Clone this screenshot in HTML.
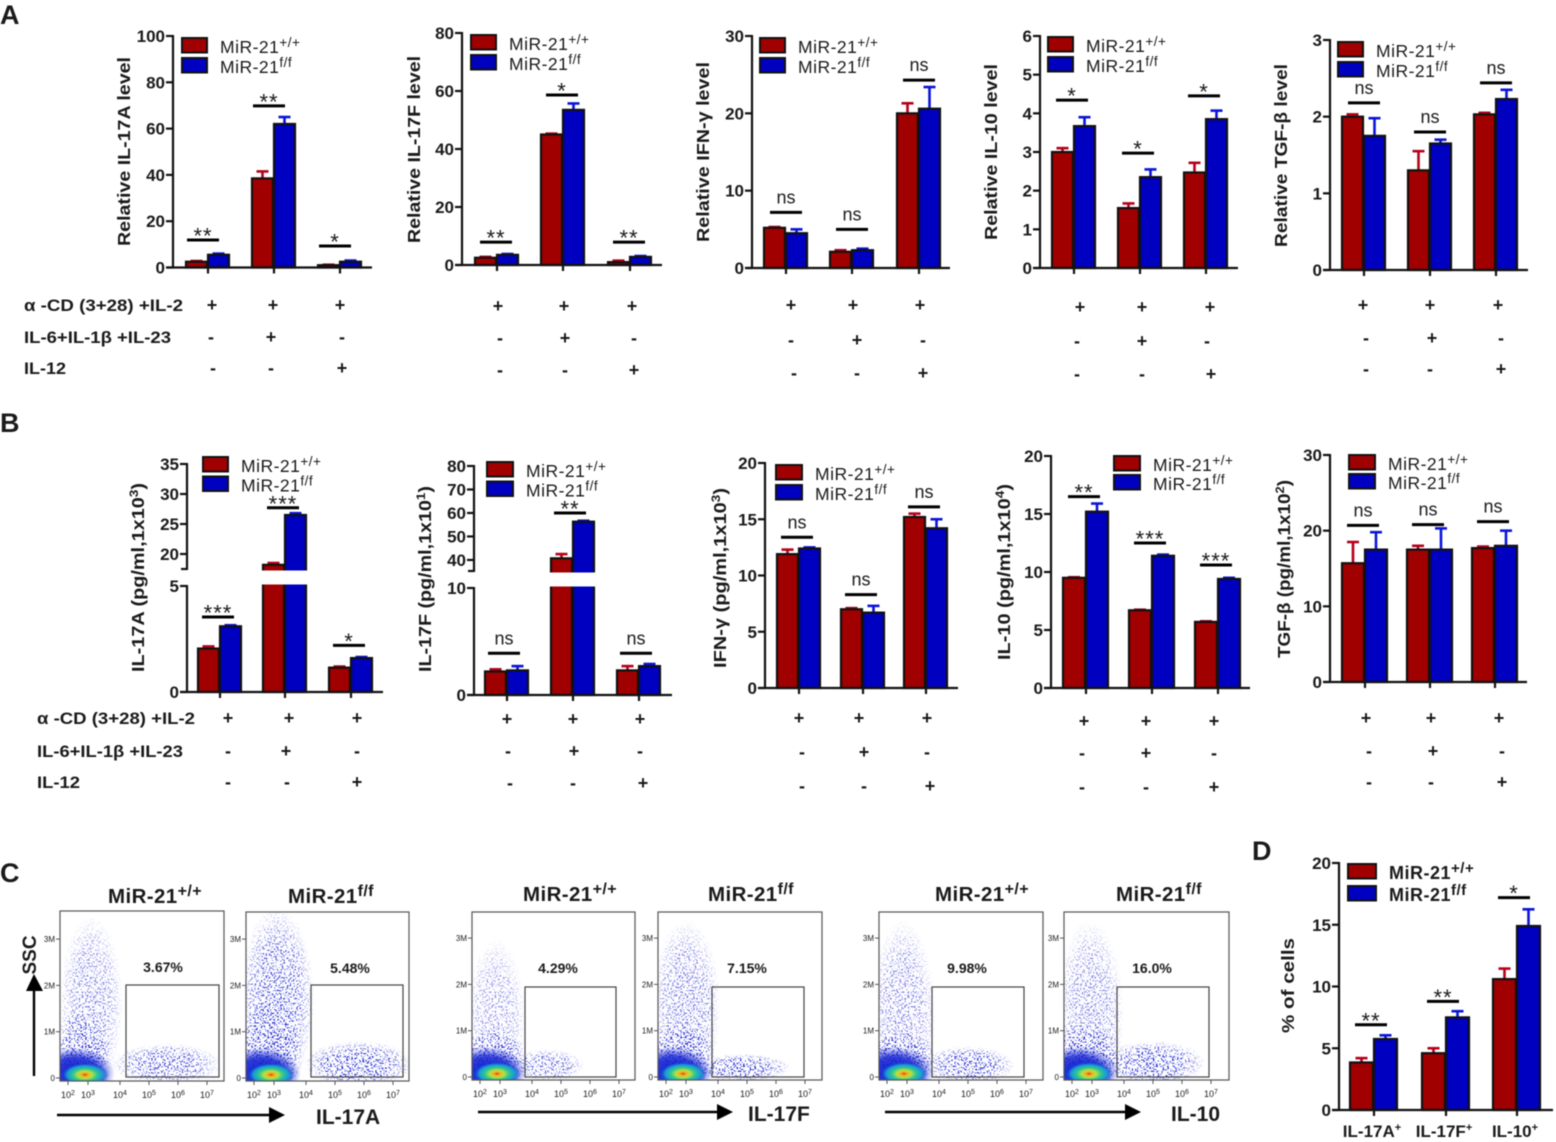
<!DOCTYPE html>
<html lang="en">
<head>
<meta charset="utf-8">
<title>MiR-21 cytokine figure</title>
<style>
html,body{margin:0;padding:0;background:#fff;width:1556px;height:1142px;overflow:hidden}
svg{display:block;filter:blur(.5px)}
text{font-family:"Liberation Sans",sans-serif;fill:#1a1a1a}
</style>
</head>
<body>
<svg id="fig" xmlns="http://www.w3.org/2000/svg" width="1556" height="1142" viewBox="0 0 1556 1142">
<defs>
<filter id="stipple" x="0" y="0" width="100%" height="100%" color-interpolation-filters="sRGB">
<feTurbulence type="fractalNoise" baseFrequency="0.62" numOctaves="1" seed="7"/>
<feColorMatrix type="matrix" values="0 0 0 0 .05  0 0 0 0 .08  0 0 0 0 .80  12 0 0 0 -6.5"/>
</filter>
<radialGradient id="soft"><stop offset="0" stop-color="#fff" stop-opacity="1"/><stop offset=".6" stop-color="#fff" stop-opacity=".8"/><stop offset="1" stop-color="#fff" stop-opacity="0"/></radialGradient>
<radialGradient id="coreBlue"><stop offset="0" stop-color="#0a18d0" stop-opacity="1"/><stop offset=".6" stop-color="#1422d0" stop-opacity=".85"/><stop offset="1" stop-color="#2030d0" stop-opacity="0"/></radialGradient>
<radialGradient id="coreHeat"><stop offset="0" stop-color="#e8341e"/><stop offset=".14" stop-color="#f0b020"/><stop offset=".3" stop-color="#b8e040"/><stop offset=".5" stop-color="#30c890"/><stop offset=".75" stop-color="#1898d8"/><stop offset="1" stop-color="#1430d0" stop-opacity="0"/></radialGradient>
</defs>
<g id="root"></g>
</svg>
<script>
// ---- Treatment matrix (1 = "+", 0 = "-") ----
const treatmentNames = ["α -CD (3+28) +IL-2", "IL-6+IL-1β +IL-23", "IL-12"];
const treatAnti = [1, 1, 1];
const treatCyt = [0, 1, 0];
const treatIl12 = [0, 0, 1];

// ---- Panel A ----
const a1Ticks = [0, 20, 40, 60, 80, 100];
const a1Wt = [2.5, 38.5, 1];
const a1Ko = [5.5, 62, 2.5];
const a1WtErr = [2.8, 41.5, 1.2];
const a1KoErr = [6, 65, 3];
const a1Sig = ["**", "**", "*"];
const a1SigLevel = [11.9, 69.8, 9.3];

const a2Ticks = [0, 20, 40, 60, 80];
const a2Wt = [2.5, 45, 1];
const a2Ko = [3.5, 53.5, 2.8];
const a2WtErr = [2.8, 45.3, 1.5];
const a2KoErr = [3.8, 55.7, 3.1];
const a2Sig = ["**", "*", "**"];
const a2SigLevel = [7.9, 58.6, 7.9];

const a3Ticks = [0, 10, 20, 30];
const a3Wt = [5.2, 2.1, 20];
const a3Ko = [4.5, 2.3, 20.6];
const a3WtErr = [5.3, 2.3, 21.3];
const a3KoErr = [5.0, 2.5, 23.4];
const a3Sig = ["ns", "ns", "ns"];
const a3SigLevel = [7.2, 5.0, 24.3];

const a4Ticks = [0, 1, 2, 3, 4, 5, 6];
const a4Wt = [3.0, 1.55, 2.47];
const a4Ko = [3.67, 2.35, 3.85];
const a4WtErr = [3.1, 1.67, 2.72];
const a4KoErr = [3.9, 2.55, 4.07];
const a4Sig = ["*", "*", "*"];
const a4SigLevel = [4.34, 2.97, 4.45];

const a5Ticks = [0, 1, 2, 3];
const a5Wt = [2.0, 1.3, 2.03];
const a5Ko = [1.75, 1.65, 2.23];
const a5WtErr = [2.03, 1.55, 2.05];
const a5KoErr = [1.98, 1.7, 2.35];
const a5Sig = ["ns", "ns", "ns"];
const a5SigLevel = [2.18, 1.8, 2.44];

// ---- Panel B ----
const b1Ticks = [0, 5, 20, 25, 30, 35];
const b1Wt = [2.05, 18.2, 1.15];
const b1Ko = [3.1, 26.5, 1.6];
const b1WtErr = [2.15, 18.5, 1.2];
const b1KoErr = [3.15, 26.8, 1.65];
const b1Sig = ["***", "***", "*"];
const b1SigLevel = [3.54, 27.7, 2.2];

const b2Ticks = [0, 10, 40, 50, 60, 70, 80];
const b2Wt = [2.2, 40.7, 2.3];
const b2Ko = [2.3, 56.3, 2.7];
const b2WtErr = [2.4, 42.5, 2.7];
const b2KoErr = [2.7, 56.7, 2.9];
const b2Sig = ["ns", "**", "ns"];
const b2SigLevel = [3.9, 60, 3.9];

const b3Ticks = [0, 5, 10, 15, 20];
const b3Wt = [11.9, 7.0, 15.2];
const b3Ko = [12.4, 6.7, 14.2];
const b3WtErr = [12.3, 7.1, 15.5];
const b3KoErr = [12.5, 7.3, 15];
const b3Sig = ["ns", "ns", "ns"];
const b3SigLevel = [13.4, 8.3, 16.1];

const b4Ticks = [0, 5, 10, 15, 20];
const b4Wt = [9.5, 6.7, 5.7];
const b4Ko = [15.2, 11.4, 9.4];
const b4WtErr = [9.55, 6.75, 5.75];
const b4KoErr = [15.9, 11.5, 9.5];
const b4Sig = ["**", "***", "***"];
const b4SigLevel = [16.5, 12.5, 10.6];

const b5Ticks = [0, 10, 20, 30];
const b5Wt = [15.7, 17.5, 17.7];
const b5Ko = [17.5, 17.5, 18];
const b5WtErr = [18.5, 18, 17.9];
const b5KoErr = [19.8, 20.3, 20];
const b5Sig = ["ns", "ns", "ns"];
const b5SigLevel = [20.7, 20.8, 21.2];

// ---- Panel D ----
const dCategories = ["IL-17A", "IL-17F", "IL-10"];
const dTicks = [0, 5, 10, 15, 20];
const dWt = [3.85, 4.6, 10.6];
const dKo = [5.75, 7.5, 14.9];
const dWtErr = [4.2, 5.0, 11.45];
const dKoErr = [6.05, 8.0, 16.25];
const dSig = ["**", "**", "*"];
const dSigLevel = [6.9, 8.8, 17.2];

// ---- Panel C: population descriptors [log10 signal, SSC (M), spread log, spread SSC, density] ----
const flowPercents = ["3.67%", "5.48%", "4.29%", "7.15%", "9.98%", "16.0%"];
const flowXTicks = [2, 3, 4, 5, 6, 7];
const flowYTicks = [0, 1, 2, 3];
const flowP1 = [[3.1, 1.6, 1.0, 1.9, .6], [2.7, .5, 1.0, 1.0, 1], [5.6, .3, 1.9, .45, .85]];
const flowP2 = [[3.1, 1.7, 1.2, 2.0, .85], [2.8, .6, 1.1, 1.2, 1], [5.8, .3, 1.9, .5, 1]];
const flowP3 = [[2.8, 1.2, 1.0, 1.8, .5], [2.7, .4, 1.1, .7, 1], [4.5, .25, 1.3, .35, .75]];
const flowP4 = [[3, 1.5, 1.1, 1.9, .65], [2.8, .45, 1.1, .8, 1], [4.8, .2, 1.7, .3, 1]];
const flowP5 = [[2.8, 1.3, 1.1, 2.1, .6], [2.7, .35, 1.2, .7, 1], [5, .25, 1.6, .42, .95]];
const flowP6 = [[2.9, 1.3, 1.1, 2.1, .6], [2.7, .4, 1.2, .8, 1], [5, .3, 1.8, .48, 1]];

// ---- Helpers ----
const NS = "http://www.w3.org/2000/svg";
const root = document.getElementById("root");
const defs = document.querySelector("defs");
function mk(tag, attrs, parent) {
  const el = document.createElementNS(NS, tag);
  for (const k in attrs) el.setAttribute(k, attrs[k]);
  (parent || root).appendChild(el);
  return el;
}
function tspan(parent, str, attrs) {
  const t = document.createElementNS(NS, "tspan");
  for (const k in (attrs || {})) t.setAttribute(k, attrs[k]);
  t.textContent = str;
  parent.appendChild(t);
  return t;
}
function genotype(el, base, sup, supSize, rise) {
  tspan(el, base);
  tspan(el, sup, { "font-size": supSize, dy: -rise });
}

const RED = "#a00000", BLUE = "#0000c0", ERR_R = "#b5001a", ERR_B = "#0a14d8";

function makeScale(p) {
  if (p.brk) {
    const b = p.brk;
    return v => v <= b.low
      ? p.y0 - v / b.low * (p.y0 - b.yLow)
      : b.yUp - (v - b.up) / (p.max - b.up) * (b.yUp - p.yTop);
  }
  return v => p.y0 - v / p.max * (p.y0 - p.yTop);
}

function drawPanel(p) {
  const g = mk("g", {});
  
  
  const y = makeScale(p);
  const barX = (grp, s) => p.gx0[grp] + s * p.pitch;
  const centre = grp => p.gx0[grp] + p.pitch;

  // bars + error bars
  [[p.wt, p.wtE, RED, ERR_R, "wt"], [p.ko, p.koE, BLUE, ERR_B, "ko"]].forEach((s, si) => {
    s[0].forEach((v, i) => {
      const x = barX(i, si);
      const bw = p.pitch - 1;
      const ex = x + bw / 2;
      const stem = mk("line", { x1: ex, x2: ex, y1: y(v), y2: y(s[1][i]), stroke: s[3], "stroke-width": 2.6 }, g);
      
      
      const cap = mk("line", { x1: ex - 6, x2: ex + 6, y1: y(s[1][i]), y2: y(s[1][i]), stroke: s[3], "stroke-width": 2.6 }, g);
      
      
      const bar = mk("rect", { x: x, y: y(v), width: bw, height: p.y0 - y(v), fill: s[2], stroke: "#111", "stroke-width": 2.2 }, g);
      
      
    });
  });

  // break gap
  if (p.brk) {
    const gap = mk("rect", { x: p.ax - 12, y: p.brk.yUp + 1.5, width: p.xEnd - p.ax + 20, height: p.brk.yLow - p.brk.yUp - 3, fill: "#fff" }, g);
    
    
  }

  // y axis
  const segs = p.brk ? [[p.y0, p.brk.yLow], [p.brk.yUp, p.yTop]] : [[p.y0, p.yTop]];
  segs.forEach(sg => {
    const l = mk("line", { x1: p.ax, x2: p.ax, y1: sg[0] + 1, y2: sg[1] - 1, stroke: "#111", "stroke-width": 2.2 }, g);
    
    
  });
  if (p.brk) {
    const bt = mk("line", { x1: p.ax - 6, x2: p.ax, y1: p.brk.yUp, y2: p.brk.yUp, stroke: "#111", "stroke-width": 2.2 }, g);
    
    
  }
  p.ticks.forEach(t => {
    const ty = y(t);
    const tick = mk("line", { x1: p.ax - 7, x2: p.ax, y1: ty, y2: ty, stroke: "#111", "stroke-width": 2.2 }, g);
    
    
    const lab = mk("text", { x: p.ax - 8, y: ty + 6, "text-anchor": "end", "font-size": 17, "font-weight": "bold", fill: "#222" }, g);
    lab.textContent = t;
    
    
  });

  // x axis
  const xl = mk("line", { x1: p.ax - 7, x2: p.xEnd, y1: p.y0, y2: p.y0, stroke: "#111", "stroke-width": 2.2 }, g);
  
  
  p.wt.forEach((_, i) => {
    const c = centre(i);
    const xt = mk("line", { x1: c, x2: c, y1: p.y0, y2: p.y0 + 6, stroke: "#111", "stroke-width": 2.2 }, g);
    
    
  });

  // significance
  p.sig.forEach((s, i) => {
    const c = centre(i) + p.sigOff;
    const sy = y(p.sigLv[i]);
    const ln = mk("line", { x1: c - 16, x2: c + 16, y1: sy, y2: sy, stroke: "#000", "stroke-width": 3 }, g);
    
    
    const isNs = s === "ns";
    const tx = mk("text", { x: c, y: isNs ? sy - 9 : sy + 3.5, "text-anchor": "middle", "font-size": isNs ? 18 : 22, fill: "#333", "letter-spacing": isNs ? 0 : 1 }, g);
    tx.textContent = s;
    
    
  });

  // y title
  const cy = (p.title.y1 + p.title.y2) / 2;
  const title = mk("text", { transform: "translate(" + p.title.x + "," + cy + ") rotate(-90)", "text-anchor": "middle", "font-size": 17.5, "font-weight": "bold", fill: "#222", textLength: p.title.y2 - p.title.y1, lengthAdjust: "spacingAndGlyphs" }, g);
  tspan(title, p.title.a);
  if (p.title.s) {
    tspan(title, p.title.s, { "font-size": 12, dy: -6 });
    tspan(title, ")", { dy: 6 });
  }
  
  

  // legend
  const L = p.leg;
  [["+/+", RED, "wt"], ["f/f", BLUE, "ko"]].forEach((e, i) => {
    const ly = L.y + i * L.gap;
    const sw = mk("rect", { x: L.x, y: ly, width: L.w, height: 14.5, fill: e[1], stroke: "#111", "stroke-width": 2 }, g);
    
    
    const tx = mk("text", { x: L.x + L.w + 13, y: ly + 15, "font-size": L.fs, "letter-spacing": ".5", fill: "#333", "font-weight": L.bold ? "bold" : "normal" }, g);
    genotype(tx, "MiR-21", e[0], L.sup, 6);
    
    
  });

  // treatment marks
  if (p.marks) {
    [treatAnti, treatCyt, treatIl12].forEach((row, r) => {
      row.forEach((f, i) => {
        const m = p.marks[r];
        const tx = mk("text", { x: m.x[i], y: m.y + 6, "text-anchor": "middle", "font-size": 18, "font-weight": "bold", fill: "#222" }, g);
        tx.textContent = f ? "+" : "-";
        
        
      });
    });
  }
}

const panels = [
 {id:"a-il17a",ax:173,xEnd:372,y0:267.5,yTop:36,max:100,ticks:a1Ticks,wt:a1Wt,ko:a1Ko,wtE:a1WtErr,koE:a1KoErr,sig:a1Sig,sigLv:a1SigLevel,gx0:[186,252,318],pitch:22,sigOff:-5,
  title:{x:130,y1:57,y2:246,a:"Relative IL-17A level"},leg:{x:182,y:38,gap:20,w:25,fs:17.5,sup:13.5},
  marks:[{y:305,x:[212,273,340]},{y:337,x:[211,271,342]},{y:368,x:[213,271,342]}]},
 {id:"a-il17f",ax:462,xEnd:662,y0:265,yTop:33,max:80,ticks:a2Ticks,wt:a2Wt,ko:a2Ko,wtE:a2WtErr,koE:a2KoErr,sig:a2Sig,sigLv:a2SigLevel,gx0:[475,541,608],pitch:22,sigOff:-1,
  title:{x:420,y1:56,y2:243,a:"Relative IL-17F level"},leg:{x:471,y:35,gap:20,w:25,fs:17.5,sup:13.5},
  marks:[{y:306,x:[498,564,632]},{y:338,x:[500,565,634]},{y:370,x:[500,565,634]}]},
 {id:"a-ifng",ax:752,xEnd:950,y0:268,yTop:36,max:30,ticks:a3Ticks,wt:a3Wt,ko:a3Ko,wtE:a3WtErr,koE:a3KoErr,sig:a3Sig,sigLv:a3SigLevel,gx0:[764,830,897],pitch:22,sigOff:0,
  title:{x:709,y1:62,y2:242,a:"Relative IFN-γ level"},leg:{x:760,y:38,gap:20,w:25,fs:17.5,sup:13.5},
  marks:[{y:305,x:[791,853,920]},{y:340,x:[791,857,923]},{y:373,x:[794,857,923]}]},
 {id:"a-il10",ax:1040,xEnd:1238,y0:268,yTop:36,max:6,ticks:a4Ticks,wt:a4Wt,ko:a4Ko,wtE:a4WtErr,koE:a4KoErr,sig:a4Sig,sigLv:a4SigLevel,gx0:[1052,1118,1184],pitch:22,sigOff:-2,
  title:{x:997,y1:64,y2:240,a:"Relative IL-10 level"},leg:{x:1048,y:37,gap:20,w:25,fs:17.5,sup:13.5},
  marks:[{y:307,x:[1080,1142,1210]},{y:341,x:[1077,1142,1207]},{y:374,x:[1077,1142,1211]}]},
 {id:"a-tgfb",ax:1330,xEnd:1528,y0:270,yTop:40,max:3,ticks:a5Ticks,wt:a5Wt,ko:a5Ko,wtE:a5WtErr,koE:a5KoErr,sig:a5Sig,sigLv:a5SigLevel,gx0:[1342,1408,1474],pitch:22,sigOff:0,
  title:{x:1287,y1:64,y2:247,a:"Relative TGF-β level"},leg:{x:1338,y:42,gap:20,w:25,fs:17.5,sup:13.5},
  marks:[{y:305,x:[1363,1430,1498]},{y:338,x:[1366,1432,1501]},{y:369,x:[1366,1430,1501]}]},
 {id:"b-il17a",ax:187,xEnd:383,y0:692,yTop:464,max:35,brk:{low:5,yLow:586,up:17.5,yUp:569},ticks:b1Ticks,wt:b1Wt,ko:b1Ko,wtE:b1WtErr,koE:b1KoErr,sig:b1Sig,sigLv:b1SigLevel,gx0:[198,263,329],pitch:22,sigOff:-2,
  title:{x:144,y1:483,y2:672,a:"IL-17A (pg/ml,1x10",s:"3"},leg:{x:203,y:457,gap:19.5,w:25,fs:17.5,sup:13.5},
  marks:[{y:718,x:[228,289,357]},{y:751,x:[228,286,357]},{y:782,x:[228,287,357]}]},
 {id:"b-il17f",ax:474,xEnd:672,y0:695,yTop:466,max:80,brk:{low:10,yLow:588,up:35.3,yUp:571},ticks:b2Ticks,wt:b2Wt,ko:b2Ko,wtE:b2WtErr,koE:b2KoErr,sig:b2Sig,sigLv:b2SigLevel,gx0:[485,551,617],pitch:22,sigOff:-3,
  title:{x:431,y1:486,y2:672,a:"IL-17F (pg/ml,1x10",s:"1"},leg:{x:487,y:462,gap:19.5,w:26,fs:17.5,sup:13.5},
  marks:[{y:719,x:[507,573,640]},{y:751,x:[508,574,640]},{y:783,x:[510,573,643]}]},
 {id:"b-ifng",ax:765,xEnd:958,y0:688,yTop:463,max:20,ticks:b3Ticks,wt:b3Wt,ko:b3Ko,wtE:b3WtErr,koE:b3KoErr,sig:b3Sig,sigLv:b3SigLevel,gx0:[777,841,904],pitch:22,sigOff:-2,
  title:{x:726,y1:488,y2:668,a:"IFN-γ  (pg/ml,1x10",s:"3"},leg:{x:776,y:465,gap:20,w:26,fs:17.5,sup:13.5},
  marks:[{y:718,x:[799,859,927]},{y:752,x:[802,864,927]},{y:786,x:[802,864,930]}]},
 {id:"b-il10",ax:1051,xEnd:1250,y0:688,yTop:456,max:20,ticks:b4Ticks,wt:b4Wt,ko:b4Ko,wtE:b4WtErr,koE:b4KoErr,sig:b4Sig,sigLv:b4SigLevel,gx0:[1063,1129,1195],pitch:23,sigOff:-2,
  title:{x:1010,y1:484,y2:660,a:"IL-10 (pg/ml,1x10",s:"4"},leg:{x:1114,y:456,gap:19,w:26,fs:17.5,sup:13.5},
  marks:[{y:721,x:[1084,1146,1214]},{y:753,x:[1082,1146,1214]},{y:787,x:[1082,1146,1214]}]},
 {id:"b-tgfb",ax:1330,xEnd:1527,y0:682,yTop:455,max:30,ticks:b5Ticks,wt:b5Wt,ko:b5Ko,wtE:b5WtErr,koE:b5KoErr,sig:b5Sig,sigLv:b5SigLevel,gx0:[1342,1407,1472],pitch:23,sigOff:-2,
  title:{x:1290,y1:480,y2:658,a:"TGF-β (pg/ml,1x10",s:"2"},leg:{x:1349,y:455,gap:19,w:26,fs:17.5,sup:13.5},
  marks:[{y:718,x:[1366,1431,1499]},{y:751,x:[1369,1433,1502]},{y:782,x:[1369,1431,1502]}]},
 {id:"d-percent",ax:1339,xEnd:1553,y0:1110,yTop:863,max:20,ticks:dTicks,wt:dWt,ko:dKo,wtE:dWtErr,koE:dKoErr,sig:dSig,sigLv:dSigLevel,gx0:[1350,1422,1493],pitch:24,sigOff:-3,
  title:{x:1294,y1:938,y2:1033,a:"% of cells"},leg:{x:1348,y:864,gap:22,w:28,fs:18,sup:15,bold:true}}
];
panels.forEach(drawPanel);

// Row labels
[[24, [305, 337, 368], [159, 147, 42]], [37, [718, 751, 782], [158, 146, 43]]].forEach(cfg => {
  treatmentNames.forEach((n, i) => {
    const t = mk("text", { x: cfg[0], y: cfg[1][i] + 6, "font-size": 17, "font-weight": "bold", fill: "#222", textLength: cfg[2][i], lengthAdjust: "spacingAndGlyphs" });
    t.textContent = n;
    
    
  });
});

// Panel letters
[["A", 0, 24], ["B", 0, 432], ["C", 0, 882], ["D", 1252, 860]].forEach(a => {
  const t = mk("text", { x: a[1], y: a[2], "font-size": 27, "font-weight": "bold", fill: "#000" });
  t.textContent = a[0];
  
  
});

// D category labels
dCategories.forEach((c, i) => {
  const p = panels[10];
  const t = mk("text", { x: p.gx0[i] + p.pitch - 2, y: 1137, "text-anchor": "middle", "font-size": 17, "font-weight": "bold", fill: "#222" });
  tspan(t, c);
  tspan(t, "+", { "font-size": 11, dy: -6 });
  
  
});

// ---- Panel C flow plots ----
const plots = [
 {l:60,r:224,t:911,b:1081,gate:[126,985,93,92],pctX:163,pctY:972,data:flowP1,title:{x:108,y:903,w:"+/+"}},
 {l:246,r:409,t:912,b:1081,gate:[311,985,92,92],pctX:350,pctY:973,data:flowP2,title:{x:288,y:903,w:"f/f"}},
 {l:472,r:635,t:912,b:1080,gate:[525,987,91,90],pctX:558,pctY:973,data:flowP3,title:{x:523,y:901,w:"+/+"}},
 {l:658,r:822,t:912,b:1080,gate:[712,987,92,90],pctX:747,pctY:973,data:flowP4,title:{x:708,y:901,w:"f/f"}},
 {l:879,r:1043,t:912,b:1080,gate:[932,987,92,90],pctX:967,pctY:973,data:flowP5,title:{x:935,y:901,w:"+/+"}},
 {l:1064,r:1229,t:912,b:1080,gate:[1117,987,92,90],pctX:1152,pctY:973,data:flowP6,title:{x:1116,y:901,w:"f/f"}}
];
function flowOff(lg) {
  if (lg <= 3) return 8 + (lg - 2) * 20;
  if (lg <= 4) return 28 + (lg - 3) * 32;
  return 60 + (lg - 4) * 29;
}
plots.forEach((p, pi) => {
  const g = mk("g", {});
  
  
  const X = lg => p.l + flowOff(lg);
  const Y = s => p.b - 3 - s * 46.3;

  const clip = mk("clipPath", { id: "clip" + pi }, defs);
  mk("rect", { x: p.l, y: p.t, width: p.r - p.l, height: p.b - p.t }, clip);
  const mask = mk("mask", { id: "mask" + pi, maskUnits: "userSpaceOnUse", x: p.l, y: p.t, width: p.r - p.l, height: p.b - p.t }, defs);
  const inner = mk("g", { "clip-path": "url(#clip" + pi + ")" }, g);
  p.data.forEach(c => {
    mk("ellipse", { cx: X(c[0]), cy: Y(c[1]), rx: Math.abs(X(c[0] + c[2]) - X(c[0])), ry: c[3] * 46.3, fill: "url(#soft)", opacity: c[4] }, mask);
  });
  const cloud = mk("rect", { x: p.l, y: p.t, width: p.r - p.l, height: p.b - p.t, filter: "url(#stipple)", mask: "url(#mask" + pi + ")" }, inner);
  
  
  const blue = mk("ellipse", { cx: X(2.35), cy: Y(.1), rx: 40, ry: 26, fill: "url(#coreBlue)" }, inner);
  
  
  const heat = mk("ellipse", { cx: X(2.85), cy: Y(.07), rx: 24, ry: 12, fill: "url(#coreHeat)" }, inner);
  
  

  const frame = mk("rect", { x: p.l, y: p.t, width: p.r - p.l, height: p.b - p.t, fill: "none", stroke: "#555", "stroke-width": 1.2 }, g);
  
  
  const gate = mk("rect", { x: p.gate[0], y: p.gate[1], width: p.gate[2], height: p.gate[3], fill: "none", stroke: "#444", "stroke-width": 1.2 }, g);
  
  

  const pct = mk("text", { x: p.pctX, y: p.pctY, "text-anchor": "middle", "font-size": 14, "font-weight": "bold", fill: "#222" }, g);
  pct.textContent = flowPercents[pi];
  
  

  flowXTicks.forEach(tk => {
    const tick = mk("line", { x1: X(tk), x2: X(tk), y1: p.b, y2: p.b + 4, stroke: "#555", "stroke-width": 1 }, g);
    
    
    const lab = mk("text", { x: X(tk), y: p.b + 17, "text-anchor": "middle", "font-size": 9, fill: "#333" }, g);
    tspan(lab, "10");
    tspan(lab, String(tk), { "font-size": 7, dy: -3 });
    
    
  });
  flowYTicks.forEach(tk => {
    const tick = mk("line", { x1: p.l - 4, x2: p.l, y1: Y(tk), y2: Y(tk), stroke: "#555", "stroke-width": 1 }, g);
    
    
    const lab = mk("text", { x: p.l - 5, y: Y(tk) + 3, "text-anchor": "end", "font-size": 8, fill: "#333" }, g);
    lab.textContent = tk === 0 ? "0" : tk + "M";
    
    
  });

  const tt = mk("text", { x: p.title.x, y: p.title.y, "font-size": 20.5, "font-weight": "bold", fill: "#111", "letter-spacing": ".4" }, g);
  genotype(tt, "MiR-21", p.title.w, 16, 7);
  
  
});

// Flow arrows and axis names
[[57, 285, 1115, "IL-17A", 316], [478, 733, 1112, "IL-17F", 748], [885, 1141, 1112, "IL-10", 1171]].forEach(a => {
  const ln = mk("line", { x1: a[0], x2: a[1] - 12, y1: a[2], y2: a[2], stroke: "#000", "stroke-width": 2.4 });
  
  
  const hd = mk("polygon", { points: (a[1] - 16) + "," + (a[2] - 8) + " " + a[1] + "," + a[2] + " " + (a[1] - 16) + "," + (a[2] + 8), fill: "#000" });
  
  
  const t = mk("text", { x: a[4], y: a[2] + 9, "font-size": 21, "font-weight": "bold", fill: "#111" });
  t.textContent = a[3];
  
  
});
const upLine = mk("line", { x1: 34, x2: 34, y1: 1076, y2: 985, stroke: "#000", "stroke-width": 2.4 });


const upHead = mk("polygon", { points: "26,991 34,974 43,991", fill: "#000" });


const ssc = mk("text", { transform: "translate(36,955) rotate(-90)", "text-anchor": "middle", "font-size": 19, "font-weight": "bold", fill: "#111" });
ssc.textContent = "SSC";


</script>
</body>
</html>
